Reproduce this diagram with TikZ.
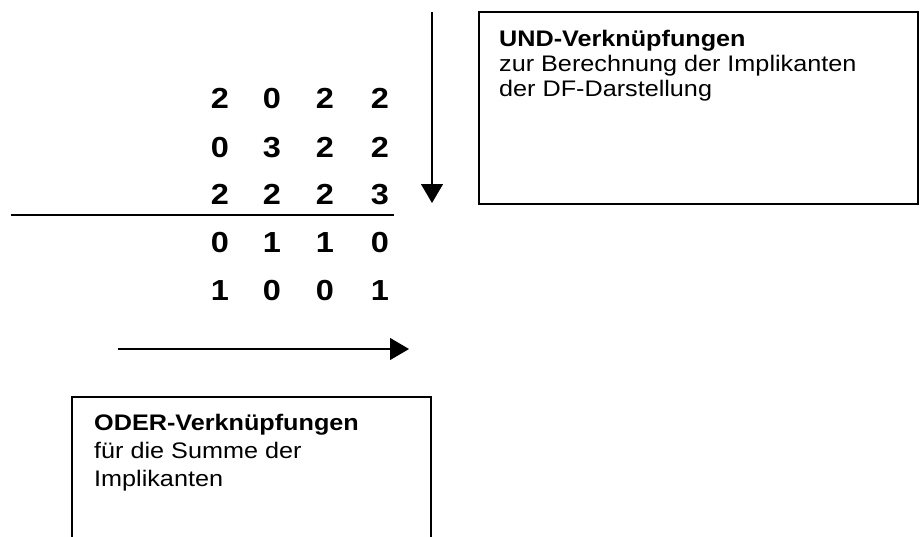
\documentclass[tikz,border=0pt]{standalone}
\usepackage{fontspec}
\setmainfont{Liberation Sans}
\usetikzlibrary{arrows.meta}
\newcommand{\hx}[1]{\scalebox{1.12}[1]{#1}}
\tikzset{
  digit/.style={anchor=base, inner sep=0pt, font=\fontsize{29}{32}\selectfont\bfseries},
  txt/.style={anchor=base west, inner sep=0pt, font=\fontsize{22.5}{26}\selectfont},
  boxline/.style={line width=1.3pt},
  arr/.style={line width=1.1pt, -{Triangle[length=19pt,width=22pt]}},
}
\begin{document}
\begin{tikzpicture}[x=1pt,y=-1pt]
\useasboundingbox (0,0) rectangle (921,536);
% digits
\foreach \r/\y/\a/\b/\c/\d in {1/108/2/0/2/2, 2/157/0/3/2/2, 3/204/2/2/2/3, 4/252/0/1/1/0, 5/300/1/0/0/1}{
  \node[digit] (d\r a) at (220,\y) {\hx{\a}};
  \node[digit] (d\r b) at (272,\y) {\hx{\b}};
  \node[digit] (d\r c) at (325,\y) {\hx{\c}};
  \node[digit] (d\r d) at (380,\y) {\hx{\d}};
}
% separator line
\coordinate (sepL) at (11,215);
\coordinate (sepR) at (394,215);
\draw[line width=2.4pt] (sepL) -- (sepR);
% vertical arrow
\coordinate (vTop) at (432,12);
\coordinate (vBot) at (432,203);
\draw[arr] (vTop) -- (vBot);
% horizontal arrow
\coordinate (hL) at (118,349);
\coordinate (hR) at (409,349);
\draw[arr] (hL) -- (hR);
% UND box
\draw[boxline] (479,12) rectangle (918,204);
\node[txt] (und1) at (499,46) {\hx{\bfseries UND-Verknüpfungen}};
\node[txt] (und2) at (499,71) {\hx{zur Berechnung der Implikanten}};
\node[txt] (und3) at (499,96) {\hx{der DF-Darstellung}};
% ODER box (open at the bottom edge)
\draw[boxline] (72,537) -- (72,397) -- (431,397) -- (431,537);
\node[txt] (oder1) at (94,430) {\hx{\bfseries ODER-Verknüpfungen}};
\node[txt] (oder2) at (94,458) {\hx{für die Summe der}};
\node[txt] (oder3) at (94,486) {\hx{Implikanten}};
\end{tikzpicture}
\end{document}
